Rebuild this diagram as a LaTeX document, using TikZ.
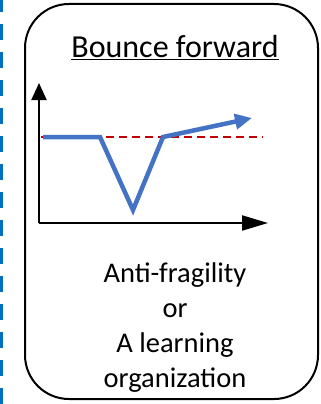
\documentclass[tikz,border=0pt]{standalone}
\usepackage{fontspec}
\setmainfont{Carlito}
\usetikzlibrary{arrows.meta}
\definecolor{msblue}{HTML}{4472C4}
\definecolor{frameblue}{HTML}{0070C0}
\definecolor{levelred}{HTML}{C00000}
\tikzset{
  axis/.style={line width=2pt,-{Triangle[length=#1,width=15pt]}},
  txt/.style={font=\fontsize{28.5}{35}\selectfont,align=center},
}
\begin{document}
\begin{tikzpicture}[x=1pt,y=-1pt,line join=miter]
  \useasboundingbox (0,0) rectangle (321,404);
  % left frame edge
  \draw[frameblue,line width=3.5pt,dash pattern=on 16pt off 12pt,dash phase=4pt] (1.5,0) -- (1.5,404);
  % card
  \draw[line width=2pt,rounded corners=44pt] (25,4) rectangle (318,399);
  \node[font=\fontsize{32}{36}\selectfont,anchor=base] (title) at (175,58) {\underline{Bounce forward}};
  % axes
  \coordinate (origin) at (39,223);
  \coordinate (ytop) at (39,83);
  \coordinate (xend) at (268,223);
  \draw[axis=17pt] (origin) -- (ytop);
  \draw[axis=26pt] (origin) -- (xend);
  % level before the shock
  \coordinate (l0) at (41,137);
  \coordinate (l1) at (263,137);
  \draw[levelred,line width=1.3pt,dash pattern=on 8pt off 5pt] (l0) -- (l1);
  % bounce
  \coordinate (b0) at (43,137);
  \coordinate (b1) at (100,137);
  \coordinate (b2) at (133,210);
  \coordinate (b3) at (163,137);
  \coordinate (b4) at (252,118);
  \draw[msblue,line width=4.5pt,-{Triangle[length=17pt,width=15pt]}] (b0) -- (b1) -- (b2) -- (b3) -- (b4);
  \node[txt,anchor=base] (anti) at (175,282) {Anti-fragility};
  \node[txt,anchor=base] (or) at (175,317) {or};
  \node[txt,anchor=base] (learn) at (175,352) {A learning};
  \node[txt,anchor=base] (org) at (175,387) {organization};
\end{tikzpicture}
\end{document}
